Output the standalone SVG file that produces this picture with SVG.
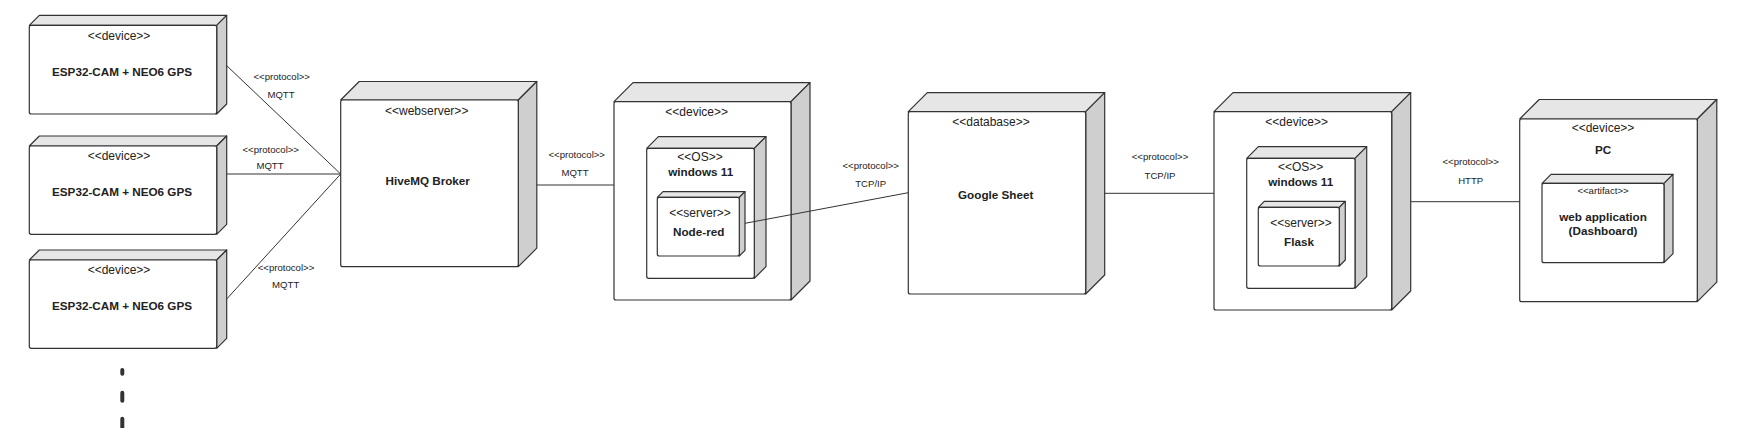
<svg xmlns="http://www.w3.org/2000/svg" width="1738" height="428" viewBox="0 0 1738 428">
<style>
.front{fill:#ffffff;stroke:#333333;stroke-width:1.2}
.top{fill:#e6e6e6;stroke:#333333;stroke-width:1.2;stroke-linejoin:round}
.side{fill:#cfcfcf;stroke:#333333;stroke-width:1.2;stroke-linejoin:round}
text{font-family:"Liberation Sans",Arial,sans-serif;fill:#222222;text-anchor:middle;dominant-baseline:central}
.st{font-size:12px}
.bd{font-size:11.7px;font-weight:bold}
.sm{font-size:9.6px}
.conn line{stroke:#333333;stroke-width:1}
.dots{stroke:#333333;stroke-width:4;stroke-linecap:round;fill:none}
</style>
<rect width="1738" height="428" fill="#ffffff"/>
<g id="esp1">
<polygon class="top" points="29.3,25.3 39.3,15.3 226.7,15.3 216.7,25.3"/>
<polygon class="side" points="216.7,25.3 226.7,15.3 226.7,104 216.7,114"/>
<rect class="front" x="29.3" y="25.3" width="187.4" height="88.7" rx="2"/>
<text class="st" x="119" y="35.7">&lt;&lt;device&gt;&gt;</text>
<text class="bd" x="122" y="71">ESP32-CAM + NEO6 GPS</text>
</g>
<g id="esp2">
<polygon class="top" points="29.3,146 39.3,136 226.7,136 216.7,146"/>
<polygon class="side" points="216.7,146 226.7,136 226.7,224.3 216.7,234.3"/>
<rect class="front" x="29.3" y="146" width="187.4" height="88.3" rx="2"/>
<text class="st" x="119" y="155.7">&lt;&lt;device&gt;&gt;</text>
<text class="bd" x="122" y="191">ESP32-CAM + NEO6 GPS</text>
</g>
<g id="esp3">
<polygon class="top" points="29.3,260 39.3,250 226.7,250 216.7,260"/>
<polygon class="side" points="216.7,260 226.7,250 226.7,338.3 216.7,348.3"/>
<rect class="front" x="29.3" y="260" width="187.4" height="88.3" rx="2"/>
<text class="st" x="119" y="270">&lt;&lt;device&gt;&gt;</text>
<text class="bd" x="122" y="305.7">ESP32-CAM + NEO6 GPS</text>
</g>
<g id="more">
<path class="dots" d="M122.3,370 L122.3,373.7 M122.3,392.7 L122.3,400.7 M122.3,418.7 L122.3,432"/>
</g>
<g id="hivemq">
<polygon class="top" points="340.7,100 359.2,81.5 536.8,81.5 518.3,100"/>
<polygon class="side" points="518.3,100 536.8,81.5 536.8,248.2 518.3,266.7"/>
<rect class="front" x="340.7" y="100" width="177.6" height="166.7" rx="2"/>
<text class="st" x="426.7" y="110.7">&lt;&lt;webserver&gt;&gt;</text>
<text class="bd" x="427.7" y="180.7">HiveMQ Broker</text>
</g>
<g id="device-nodered">
<polygon class="top" points="614,101.7 633,82.7 810,82.7 791,101.7"/>
<polygon class="side" points="791,101.7 810,82.7 810,281 791,300"/>
<rect class="front" x="614" y="101.7" width="177" height="198.3" rx="2"/>
<text class="st" x="696.7" y="112.3">&lt;&lt;device&gt;&gt;</text>
<g id="os1">
<polygon class="top" points="646.7,148.3 658.4,136.6 766,136.6 754.3,148.3"/>
<polygon class="side" points="754.3,148.3 766,136.6 766,266.6 754.3,278.3"/>
<rect class="front" x="646.7" y="148.3" width="107.6" height="130" rx="2"/>
<text class="st" x="700" y="156.7">&lt;&lt;OS&gt;&gt;</text>
<text class="bd" x="700.7" y="171.7">windows 11</text>
</g>
<g id="nodered">
<polygon class="top" points="657.3,197.3 663,191.6 745,191.6 739.3,197.3"/>
<polygon class="side" points="739.3,197.3 745,191.6 745,250.3 739.3,256"/>
<rect class="front" x="657.3" y="197.3" width="82" height="58.7" rx="2"/>
<text class="st" x="700" y="212.7">&lt;&lt;server&gt;&gt;</text>
<text class="bd" x="698.7" y="231.7">Node-red</text>
</g>
</g>
<g id="googlesheet">
<polygon class="top" points="908.3,111.7 927.3,92.7 1104.7,92.7 1085.7,111.7"/>
<polygon class="side" points="1085.7,111.7 1104.7,92.7 1104.7,275 1085.7,294"/>
<rect class="front" x="908.3" y="111.7" width="177.4" height="182.3" rx="2"/>
<text class="st" x="991" y="121.7">&lt;&lt;database&gt;&gt;</text>
<text class="bd" x="995.7" y="194.3">Google Sheet</text>
</g>
<g id="device-flask">
<polygon class="top" points="1214,111.7 1233,92.7 1410.7,92.7 1391.7,111.7"/>
<polygon class="side" points="1391.7,111.7 1410.7,92.7 1410.7,291 1391.7,310"/>
<rect class="front" x="1214" y="111.7" width="177.7" height="198.3" rx="2"/>
<text class="st" x="1296.7" y="122.3">&lt;&lt;device&gt;&gt;</text>
<g id="os2">
<polygon class="top" points="1246.7,158.3 1258.4,146.6 1366.7,146.6 1355,158.3"/>
<polygon class="side" points="1355,158.3 1366.7,146.6 1366.7,276.6 1355,288.3"/>
<rect class="front" x="1246.7" y="158.3" width="108.3" height="130" rx="2"/>
<text class="st" x="1300.7" y="166.7">&lt;&lt;OS&gt;&gt;</text>
<text class="bd" x="1300.7" y="181.7">windows 11</text>
</g>
<g id="flask">
<polygon class="top" points="1258.3,207.3 1264.3,201.3 1345.3,201.3 1339.3,207.3"/>
<polygon class="side" points="1339.3,207.3 1345.3,201.3 1345.3,260 1339.3,266"/>
<rect class="front" x="1258.3" y="207.3" width="81" height="58.7" rx="2"/>
<text class="st" x="1301" y="222.7">&lt;&lt;server&gt;&gt;</text>
<text class="bd" x="1299" y="241.7">Flask</text>
</g>
</g>
<g id="pc">
<polygon class="top" points="1519.7,119 1539.2,99.5 1716.8,99.5 1697.3,119"/>
<polygon class="side" points="1697.3,119 1716.8,99.5 1716.8,282.2 1697.3,301.7"/>
<rect class="front" x="1519.7" y="119" width="177.6" height="182.7" rx="2"/>
<text class="st" x="1603" y="128.3">&lt;&lt;device&gt;&gt;</text>
<text class="bd" x="1603" y="149">PC</text>
<g id="webapp">
<polygon class="top" points="1542,183.3 1551,174.3 1673,174.3 1664,183.3"/>
<polygon class="side" points="1664,183.3 1673,174.3 1673,253.7 1664,262.7"/>
<rect class="front" x="1542" y="183.3" width="122" height="79.4" rx="2"/>
<text class="sm" x="1603" y="190">&lt;&lt;artifact&gt;&gt;</text>
<text class="bd" x="1603" y="216.7">web application</text>
<text class="bd" x="1603" y="230">(Dashboard)</text>
</g>
</g>
<g id="connectors" class="conn">
<line x1="226.7" y1="65.7" x2="340.7" y2="174"/>
<line x1="226.7" y1="174" x2="340.7" y2="174"/>
<line x1="226.7" y1="299" x2="340.7" y2="174"/>
<line x1="536.8" y1="185" x2="614" y2="185"/>
<line x1="745" y1="223.3" x2="908.3" y2="192.7"/>
<line x1="1104.7" y1="193.3" x2="1214" y2="193.3"/>
<line x1="1410.7" y1="201.7" x2="1519.7" y2="201.7"/>
</g>
<g id="connector-labels">
<text class="sm" x="281.7" y="76">&lt;&lt;protocol&gt;&gt;</text>
<text class="sm" x="281" y="94">MQTT</text>
<text class="sm" x="270.7" y="149">&lt;&lt;protocol&gt;&gt;</text>
<text class="sm" x="270" y="165.7">MQTT</text>
<text class="sm" x="286" y="267.7">&lt;&lt;protocol&gt;&gt;</text>
<text class="sm" x="285.7" y="284.3">MQTT</text>
<text class="sm" x="576.7" y="154.7">&lt;&lt;protocol&gt;&gt;</text>
<text class="sm" x="575" y="172">MQTT</text>
<text class="sm" x="870.7" y="165.7">&lt;&lt;protocol&gt;&gt;</text>
<text class="sm" x="870.7" y="183.3">TCP/IP</text>
<text class="sm" x="1160" y="156">&lt;&lt;protocol&gt;&gt;</text>
<text class="sm" x="1160" y="175">TCP/IP</text>
<text class="sm" x="1470.7" y="161">&lt;&lt;protocol&gt;&gt;</text>
<text class="sm" x="1470.7" y="180">HTTP</text>
</g>
</svg>
